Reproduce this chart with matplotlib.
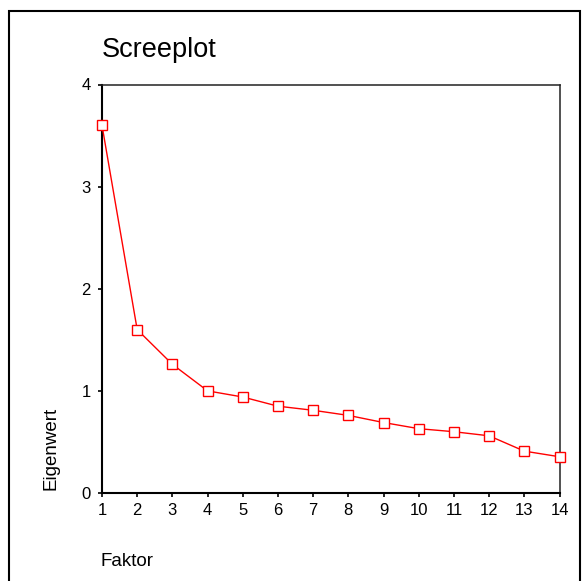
import matplotlib
matplotlib.use("Agg")
import matplotlib.pyplot as plt
from matplotlib.patches import Rectangle

plt.rcParams['font.family'] = ['Liberation Sans', 'DejaVu Sans']

# data read from the screeplot
faktor = [1, 2, 3, 4, 5, 6, 7, 8, 9, 10, 11, 12, 13, 14]
eigenwert = [3.60, 1.60, 1.26, 1.00, 0.94, 0.85, 0.81, 0.76, 0.69, 0.63, 0.60, 0.56, 0.41, 0.355]
y_ticks = [0, 1, 2, 3, 4]

W, H = 582, 581
fig = plt.figure(figsize=(W / 100, H / 100), dpi=100)
ax = fig.add_axes([102 / W, 1 - 493 / H, (559.5 - 102) / W, (493 - 84.5) / H])

ax.plot(faktor, eigenwert, color='red', lw=1.0, marker='s', markersize=7.2,
        markerfacecolor='white', markeredgecolor='red', markeredgewidth=1.0,
        clip_on=False, zorder=3)

ax.set_xlim(1, 14)
ax.set_ylim(0, 4)
ax.set_xticks(faktor)
ax.set_yticks(y_ticks)
ax.tick_params(direction='out', length=3, width=1.2, labelsize=12)
ax.tick_params(axis='x', pad=4.5)
ax.tick_params(axis='y', pad=5)

for side in ['left', 'bottom']:
    ax.spines[side].set_linewidth(1.5)
for side in ['top', 'right']:
    ax.spines[side].set_linewidth(1.1)
    ax.spines[side].set_color('#222222')

# titles and labels placed like the SPSS output
fig.text(102 / W, 1 - 57 / H, 'Screeplot', fontsize=19.5, ha='left', va='baseline')
fig.text(100 / W, 1 - 566 / H, 'Faktor', fontsize=13.5, ha='left', va='baseline')
fig.text(51 / W, 1 - 490 / H, 'Eigenwert', fontsize=13.5, rotation=90,
         ha='center', va='bottom')

# outer frame
fig.patches.append(Rectangle((9 / W, -0.02), (580 - 9) / W, 1 - 11 / H + 0.02,
                             transform=fig.transFigure, fill=False,
                             edgecolor='black', lw=1.5))

fig.savefig('out.png', dpi=100)
